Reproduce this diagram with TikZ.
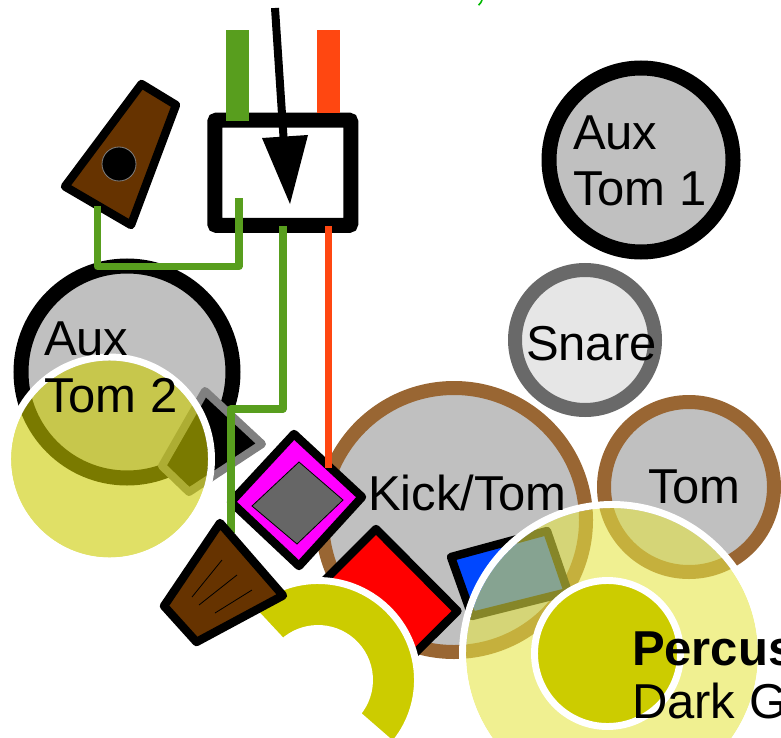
\documentclass[tikz,border=0pt]{standalone}
\usepackage{fontspec}
\setmainfont{Liberation Sans}
\definecolor{brownwood}{HTML}{663300}
\definecolor{ringbrown}{HTML}{996633}
\definecolor{drumgray}{HTML}{C0C0C0}
\definecolor{linegreen}{HTML}{589E1E}
\definecolor{lineorange}{HTML}{FF4711}
\definecolor{perc}{HTML}{CCCC00}
\definecolor{perclight}{HTML}{E5E544}
\definecolor{fragment}{HTML}{00B800}
\definecolor{snarering}{HTML}{696969}
\definecolor{snarefill}{HTML}{E6E6E6}
\definecolor{midgray}{HTML}{808080}
\definecolor{padgray}{HTML}{666666}
\definecolor{padblue}{HTML}{0047FF}
\definecolor{padmagenta}{HTML}{FF00FF}
\definecolor{padred}{HTML}{FF0000}
\tikzset{
  drum/.style={circle,draw=#1,fill=drumgray,line width=11.25pt,inner sep=0pt,outer sep=0pt},
  lbl/.style={inner sep=0pt,outer sep=0pt,anchor=base west,align=left,font=\fontsize{36.75}{44}\selectfont},
  wire/.style={line width=5.4pt,line join=round},
  hw/.style={draw=black,line width=6.3pt,line join=round},
  thinline/.style={line width=0.6pt,draw=black},
  halo/.style={draw=white,line width=5.2pt,inner sep=0pt,outer sep=0pt,circle}
}
\begin{document}
\begin{tikzpicture}[x=0.75pt,y=-0.75pt]
\useasboundingbox (0,0) rectangle (781,738);
\clip (0,0) rectangle (781,738);
\draw[fragment,line width=1.2pt] (482,0) .. controls (481.5,2) and (480,4) .. (478.5,5.2);
% drums
\node[drum=black,minimum size=138pt] (auxa) at (641,160) {};
\node[drum=snarering,fill=snarefill,line width=10.5pt,minimum size=105pt] (snare) at (585,340) {};
\node[drum=ringbrown,line width=10.5pt,minimum size=127.5pt] (tomd) at (689,487) {};
\node[drum=ringbrown,line width=10.5pt,minimum size=198pt] (kick) at (454,520) {};
\node[drum=black,minimum size=159pt] (auxb) at (127,372) {};
% speaker behind the yellow disc
\draw[draw=midgray,fill=black,line width=6pt,line join=round] (205,391) -- (262,444) -- (189,492) -- (162,466) -- cycle;
% pads
\draw[hw,fill=padred] (376,529) -- (457.5,611) -- (397,671) -- (316,589) -- cycle;
\draw[hw,fill=padblue] (451,557) -- (547,531) -- (568,592) -- (472,616) -- cycle;
\draw[hw,fill=padmagenta] (294,434) -- (362,497) -- (299,566) -- (231,502) -- cycle;
\draw[thinline,fill=padgray] (299,462) -- (343,500) -- (297,544) -- (252,506) -- cycle;
% mixer box
\node[draw=black,fill=white,line width=11.25pt,rounded corners=1.5pt,minimum width=102pt,minimum height=79pt,inner sep=0pt,outer sep=0pt] (box) at (282.75,172.75) {};
\fill[linegreen] (226,30) rectangle (249,121);
\fill[lineorange] (317,30) rectangle (339.6,113);
% wedge with dot
\draw[hw,fill=brownwood] (141.5,84) -- (176,105) -- (131,225) -- (65,186.5) -- cycle;
\node[circle,fill=black,draw=midgray,line width=0.6pt,minimum size=25.5pt,inner sep=0pt] (dot) at (119,164) {};
% arrow
\coordinate (arrowtail) at (275,8);
\coordinate (arrowend) at (283.5,137);
\draw[line width=6pt] (arrowtail) -- (arrowend);
\fill[black] (262,138) -- (308,135) -- (290,204) -- cycle;
% wires
\coordinate (wa) at (97.5,206);
\coordinate (wb) at (239,198);
\coordinate (wc) at (283,226);
\coordinate (wd) at (231,533);
\coordinate (we) at (328.5,226);
\coordinate (wf) at (328.5,468);
\draw[wire,draw=linegreen] (wa) -- (97.5,266.5) -- (239,266.5) -- (wb);
\draw[wire,draw=linegreen] (wc) -- (283,409) -- (231,409) -- (wd);
\draw[wire,draw=lineorange] (we) -- (wf);
% arc
\path[fill=perc,draw=white,line width=5.2pt]
  ({318+99.5*cos(133)},{680-99.5*sin(133)}) arc[start angle=133,end angle=-41,radius=74.625pt]
  -- ({318+51.5*cos(-41)},{680-51.5*sin(-41)}) arc[start angle=-41,end angle=133,radius=38.625pt] -- cycle;
% wedge with lines
\draw[hw,fill=brownwood] (220,523) -- (283,595.5) -- (196.5,642) -- (164,606) -- cycle;
\draw[thinline] (222,560) -- (192,597);
\draw[thinline] (237,575) -- (199,605);
\draw[thinline] (252,590) -- (215,613);
% yellow discs
\node[circle,fill=perc,fill opacity=.6,minimum size=148pt,inner sep=0pt,outer sep=0pt] (yb) at (109.5,459) {};
\node[halo,minimum size=153pt] (ya) at (109.5,459) {};
\node[circle,fill=perclight,fill opacity=.59,minimum size=219pt,inner sep=0pt,outer sep=0pt] (yd) at (612,654) {};
\node[halo,minimum size=224.25pt] (yc) at (612,654) {};
\node[circle,fill=perc,draw=white,line width=5.2pt,minimum size=109.5pt,inner sep=0pt,outer sep=0pt] (ye) at (607.5,653.5) {};
% labels
\node[lbl] (lauxa) at (573,150) {Aux};
\node[lbl] (lauxa2) at (573,205) {Tom 1};
\node[lbl] (lsnare) at (526,360) {Snare};
\node[lbl] (ltom) at (648,503) {Tom};
\node[lbl] (lkick) at (368,510) {Kick/Tom};
\node[lbl] (lauxb) at (44,355) {Aux};
\node[lbl] (lauxb2) at (44,412) {Tom 2};
\node[lbl,font=\fontsize{36.75}{44}\selectfont\bfseries] (lperc) at (632,665) {Percus};
\node[lbl] (ldark) at (632,718) {Dark G};
\end{tikzpicture}
\end{document}
